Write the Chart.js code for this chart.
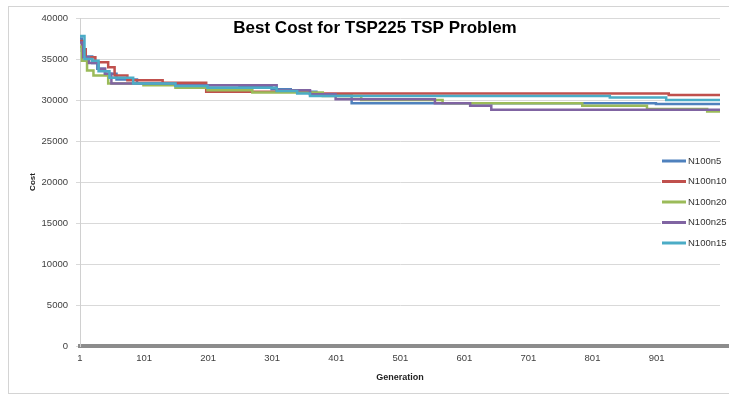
<!DOCTYPE html>
<html>
<head>
<meta charset="utf-8">
<script src="https://cdn.jsdelivr.net/npm/chart.js@4.4.1/dist/chart.umd.min.js"></script>
<style>
html, body { margin: 0; padding: 0; background: #fff; }
#wrap { position: relative; width: 729px; height: 397px; }
</style>
</head>
<body>
<div id="wrap"><canvas id="costChart" width="729" height="397"></canvas></div>
<script>
// step points: generation where best cost changes, and the new cost
const gensN5 = [1, 4, 8, 20, 28, 40, 58, 90, 150, 250, 300, 330, 370, 425, 900, 1000];
const costN5 = [37500, 36000, 35300, 34500, 33800, 33200, 32500, 32000, 31800, 31600, 31300, 31000, 30600, 29600, 29500, 29500];

const gensN10 = [1, 5, 10, 25, 45, 55, 75, 130, 198, 360, 920, 1000];
const costN10 = [37200, 36200, 35200, 34600, 34000, 33000, 32400, 32100, 31000, 30800, 30600, 30600];

const gensN20 = [1, 4, 12, 22, 45, 100, 150, 200, 270, 380, 440, 567, 785, 886, 980, 1000];
const costN20 = [36500, 34800, 33600, 33000, 32000, 31800, 31500, 31200, 30900, 30500, 30000, 29600, 29300, 28900, 28600, 28600];

const gensN25 = [1, 6, 15, 30, 40, 50, 150, 308, 360, 400, 555, 610, 643, 1000];
const costN25 = [37000, 35200, 34500, 33800, 33200, 32000, 31800, 31200, 30700, 30100, 29600, 29300, 28800, 28800];

const gensN15 = [1, 8, 20, 30, 47, 84, 150, 200, 308, 340, 360, 828, 916, 1000];
const costN15 = [37800, 35000, 34800, 33500, 32700, 32000, 31700, 31500, 31100, 30800, 30500, 30300, 30000, 30000];

const seriesNames = ['N100n5', 'N100n10', 'N100n20', 'N100n25', 'N100n15'];
const seriesColors = ['#4F81BD', '#C0504D', '#9BBB59', '#8064A2', '#4BACC6'];
const xTickLabels = [1, 101, 201, 301, 401, 501, 601, 701, 801, 901];
const yTicks = [0, 5000, 10000, 15000, 20000, 25000, 30000, 35000, 40000];

const FONT = "'Liberation Sans', Arial, sans-serif";

function toPoints(gens, costs) {
    return gens.map((g, i) => ({ x: g, y: costs[i] }));
}

const allGens = [gensN5, gensN10, gensN20, gensN25, gensN15];
const allCosts = [costN5, costN10, costN20, costN25, costN15];

const datasets = seriesNames.map((name, i) => ({
    label: name,
    data: toPoints(allGens[i], allCosts[i]),
    borderColor: seriesColors[i],
    backgroundColor: seriesColors[i],
    borderWidth: 2.5,
    pointRadius: 0,
    stepped: true,
    fill: false,
    order: -i   // later series on top, like Excel
}));

// frame + title + legend drawn Excel-style over the plot
const excelBits = {
    id: 'excelBits',
    beforeDraw(chart) {
        const c = chart.ctx;
        c.save();
        c.fillStyle = '#fff';
        c.fillRect(0, 0, chart.width, chart.height);
        c.strokeStyle = '#d4d4d4';
        c.lineWidth = 1;
        c.strokeRect(8.5, 6.5, 740, 387);
        c.restore();
    },
    afterDraw(chart) {
        const c = chart.ctx;
        const area = chart.chartArea;
        c.save();
        // zero axis bar runs on to the frame edge
        c.fillStyle = '#8c8c8c';
        c.fillRect(area.right, area.bottom - 2, chart.width - area.right, 4);

        c.fillStyle = '#000';
        c.font = 'bold 17px ' + FONT;
        c.textAlign = 'center';
        c.textBaseline = 'middle';
        c.fillText('Best Cost for TSP225 TSP Problem', 375, 28);

        c.fillStyle = '#fff';
        c.fillRect(661, 150, 68, 104);
        c.font = '9.5px ' + FONT;
        c.textAlign = 'left';
        chart.data.datasets.forEach((ds, i) => {
            const y = 161 + i * 20.5;
            c.strokeStyle = ds.borderColor;
            c.lineWidth = 3;
            c.beginPath();
            c.moveTo(662, y);
            c.lineTo(686, y);
            c.stroke();
            c.fillStyle = '#333';
            c.fillText(ds.label, 688, y);
        });
        c.restore();
    }
};

new Chart(document.getElementById('costChart'), {
    type: 'line',
    data: { datasets: datasets },
    options: {
        responsive: false,
        animation: false,
        layout: { padding: { top: 18, right: 9, bottom: 0, left: 0 } },
        plugins: {
            legend: { display: false },
            tooltip: { enabled: false }
        },
        scales: {
            x: {
                type: 'linear',
                min: 1,
                max: 1000,
                afterBuildTicks: s => { s.ticks = xTickLabels.map(v => ({ value: v })); },
                afterFit: s => { s.height = 51; },
                grid: { display: false, drawTicks: false },
                border: { display: true, color: '#8c8c8c', width: 4 },
                ticks: {
                    padding: 7,
                    maxRotation: 0,
                    autoSkip: false,
                    color: '#404040',
                    font: { family: FONT, size: 9.5 },
                    callback: v => String(v)
                },
                title: {
                    display: true,
                    text: 'Generation',
                    color: '#222',
                    padding: { top: 0, bottom: 14 },
                    font: { family: FONT, size: 9, weight: 'bold' }
                }
            },
            y: {
                min: 0,
                max: 40000,
                afterBuildTicks: s => { s.ticks = yTicks.map(v => ({ value: v })); },
                afterFit: s => { s.width = 80; },
                grid: { color: '#d9d9d9', tickLength: 4 },
                border: { color: '#d0d0d0' },
                ticks: {
                    padding: 8,
                    color: '#404040',
                    font: { family: FONT, size: 9.5 },
                    callback: v => String(v)
                },
                title: {
                    display: true,
                    text: 'Cost',
                    color: '#222',
                    padding: { top: 28, bottom: 0 },
                    font: { family: FONT, size: 8, weight: 'bold' }
                }
            }
        }
    },
    plugins: [excelBits]
});
</script>
</body>
</html>
